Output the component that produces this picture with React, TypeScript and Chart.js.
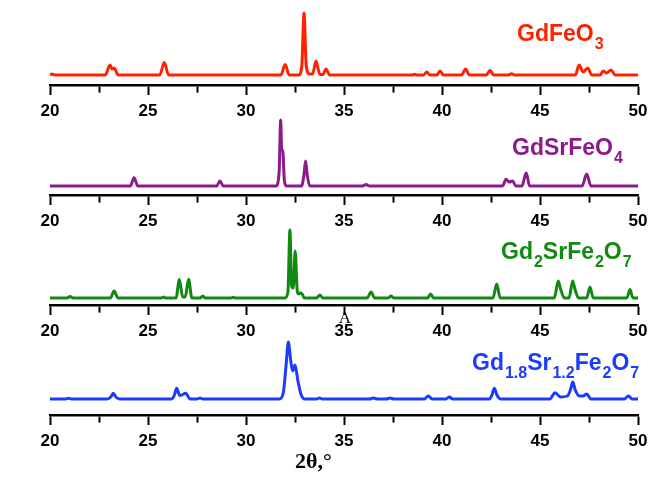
import React, { useEffect, useRef } from "react";
import { Chart, registerables } from "chart.js";

Chart.register(...registerables);

// ---- shared axis data ----
const xTickLabels = [20, 25, 30, 35, 40, 45, 50];
const xMin = 20;
const xMax = 50;
const xStep = 2.5;
const axisTitle = "2θ,°";

// ---- GdFeO3 ----
const gdFeO3Label = "GdFeO_3";
const gdFeO3TwoTheta = [
  20.0, 20.1, 20.25,
  22.82, 23.06, 23.17, 23.27, 23.48,
  25.6, 25.83, 26.05,
  31.78, 32.0, 32.2,
  32.7, 32.85, 32.96, 33.07, 33.24,
  33.4, 33.57, 33.77,
  33.93, 34.08, 34.27,
  38.5, 38.6, 38.7,
  39.06, 39.22, 39.38,
  39.74, 39.9, 40.07,
  41.0, 41.2, 41.4,
  42.26, 42.45, 42.64,
  43.4, 43.55, 43.7,
  46.8, 47.0, 47.2, 47.43, 47.64,
  48.06, 48.23, 48.4, 48.62, 48.84,
  50.0,
];
const gdFeO3Intensity = [
  0, 1, 0,
  0, 10, 6, 7, 0,
  0, 12.5, 0,
  0, 10.5, 0,
  0, 10, 62, 10, 1,
  1, 14, 0.5,
  0.5, 6, 0,
  0, 0.8, 0,
  0, 3, 0,
  0, 4, 0,
  0, 6, 0,
  0, 4.5, 0,
  0, 1.2, 0,
  0, 10, 3, 7, 0,
  0, 4, 2, 5, 0,
  0,
];

// ---- GdSrFeO4 ----
const gdSrFeO4Label = "GdSrFeO_4";
const gdSrFeO4TwoTheta = [
  20.0,
  24.1, 24.29, 24.48,
  28.5, 28.67, 28.84,
  31.53, 31.69, 31.77, 31.82, 31.87, 31.96, 32.07,
  32.83, 32.95, 33.04, 33.13, 33.26,
  35.95, 36.12, 36.3,
  43.08, 43.27, 43.42, 43.6, 43.77,
  44.08, 44.22, 44.3, 44.47,
  47.15, 47.38, 47.6,
  50.0,
];
const gdSrFeO4Intensity = [
  0,
  0, 8.3, 0,
  0, 5, 0,
  0, 14, 66, 36, 36, 5, 0,
  0, 10, 25, 10, 0,
  0, 1.5, 0,
  0, 6.7, 4, 5, 0,
  0, 9, 13, 0,
  0, 12, 0,
  0,
];

// ---- Gd2SrFe2O7 ----
const gd2SrFe2O7Label = "Gd_2SrFe_2O_7";
const gd2SrFe2O7TwoTheta = [
  20.0,
  20.88, 21.02, 21.17,
  23.08, 23.27, 23.47,
  25.7, 25.8, 25.9,
  26.43, 26.6, 26.77, 26.9, 27.07, 27.24,
  27.66, 27.79, 27.92,
  29.25, 29.34, 29.45,
  31.98, 32.14, 32.24, 32.33, 32.41, 32.51, 32.61, 32.68, 32.76, 32.86, 32.98,
  33.6, 33.77, 33.92,
  36.18, 36.38, 36.57,
  37.26, 37.4, 37.54,
  39.26, 39.42, 39.57,
  42.6, 42.79, 42.97,
  45.73, 45.93, 46.05, 46.24,
  46.48, 46.67, 46.78, 46.97,
  47.38, 47.55, 47.72,
  49.43, 49.59, 49.74,
  50.0,
];
const gd2SrFe2O7Intensity = [
  0,
  0, 1.5, 0,
  0, 7, 0,
  0, 1, 0,
  0, 18.4, 1, 1, 18.7, 0,
  0, 2, 0,
  0, 0.8, 0,
  0, 6, 68, 12, 10, 47, 8, 4, 5, 4, 0,
  0, 3, 0,
  0, 6, 0,
  0, 2, 0,
  0, 4, 0,
  0, 14, 0,
  0, 17, 9, 0,
  0, 17, 9, 0,
  0, 11, 0,
  0, 8.5, 0,
  0,
];

// ---- Gd1.8Sr1.2Fe2O7 ----
const gd18Sr12Fe2O7Label = "Gd_{1.8}Sr_{1.2}Fe_2O_7";
const gd18Sr12Fe2O7TwoTheta = [
  20.0,
  20.8, 20.94, 21.1,
  22.9, 23.1, 23.23, 23.36, 23.55,
  26.2, 26.35, 26.46, 26.62, 26.72, 26.92, 27.15,
  27.5, 27.65, 27.8,
  31.7, 31.9, 32.05, 32.16, 32.27, 32.38, 32.5, 32.65, 32.8, 33.0,
  33.6, 33.74, 33.9,
  36.3, 36.5, 36.7,
  37.15, 37.35, 37.55,
  39.1, 39.3, 39.5,
  40.2, 40.37, 40.55,
  42.4, 42.55, 42.67, 42.8, 43.0,
  45.5, 45.77, 46.05, 46.4, 46.55, 46.67, 46.8, 47.0, 47.2, 47.38, 47.6,
  49.3, 49.51, 49.7,
  50.0,
];
const gd18Sr12Fe2O7Intensity = [
  0,
  0, 0.7, 0,
  0, 2, 5.7, 2, 0,
  0, 4, 10.7, 3.5, 4, 5.7, 0,
  0, 1, 0,
  0, 6, 35, 57, 40, 28, 34, 18, 5, 0,
  0, 1, 0,
  0, 1, 0,
  0, 1, 0,
  0, 3, 0,
  0, 2, 0,
  0, 4, 10.7, 4, 0,
  0, 6.3, 2, 3, 9, 17, 9, 3, 3, 5, 0,
  0, 3, 0,
  0,
];

// ---- layout / style per panel ----
type PanelCfg = {
  label: string;
  x: number[];
  y: number[];
  color: string;
  top: number;
  height: number;
  padBottom: number;
  baseOffset: number;
  labelX: number;
  labelBaseline: number;
  extras?: { text: string; font: string; x: number; y: number; align: CanvasTextAlign }[];
};

const PLOT_H = 85;
const SANS = "'Liberation Sans', Arial, Helvetica, sans-serif";
const SERIF = "'Liberation Serif', 'Times New Roman', serif";

const panels: PanelCfg[] = [
  {
    label: gdFeO3Label, x: gdFeO3TwoTheta, y: gdFeO3Intensity, color: "#FF2200",
    top: 0, height: 127, padBottom: 0, baseOffset: 10, labelX: 517, labelBaseline: 41,
  },
  {
    label: gdSrFeO4Label, x: gdSrFeO4TwoTheta, y: gdSrFeO4Intensity, color: "#8B1A8B",
    top: 110, height: 127, padBottom: 0, baseOffset: 9, labelX: 512, labelBaseline: 45,
  },
  {
    label: gd2SrFe2O7Label, x: gd2SrFe2O7TwoTheta, y: gd2SrFe2O7Intensity, color: "#128A12",
    top: 220, height: 127, padBottom: 0, baseOffset: 7, labelX: 501, labelBaseline: 39,
    extras: [{ text: "A", font: `17px ${SERIF}`, x: 345, y: 103, align: "center" }],
  },
  {
    label: gd18Sr12Fe2O7Label, x: gd18Sr12Fe2O7TwoTheta, y: gd18Sr12Fe2O7Intensity, color: "#1B3BFF",
    top: 330, height: 147, padBottom: 20, baseOffset: 16, labelX: 472, labelBaseline: 40,
    extras: [{ text: axisTitle, font: `bold 22px ${SERIF}`, x: 295, y: 138, align: "left" }],
  },
];

function parseFormula(s: string) {
  const parts: { text: string; sub: boolean }[] = [];
  const re = /_\{([^}]*)\}|_(.)|([^_]+)/g;
  let m: RegExpExecArray | null;
  while ((m = re.exec(s))) {
    if (m[1] !== undefined) parts.push({ text: m[1], sub: true });
    else if (m[2] !== undefined) parts.push({ text: m[2], sub: true });
    else parts.push({ text: m[3], sub: false });
  }
  return parts;
}

function Panel({ cfg }: { cfg: PanelCfg }) {
  const ref = useRef<HTMLCanvasElement>(null);
  useEffect(() => {
    const canvas = ref.current!;
    const labelPlugin = {
      id: "formulaLabel",
      afterDraw(chart: any) {
        const ctx = chart.ctx as CanvasRenderingContext2D;
        ctx.save();
        ctx.fillStyle = cfg.color;
        ctx.textBaseline = "alphabetic";
        ctx.textAlign = "left";
        let x = cfg.labelX;
        for (const p of parseFormula(cfg.label)) {
          ctx.font = p.sub ? `bold 16px ${SANS}` : `bold 23px ${SANS}`;
          if (p.sub) x += 1;
          ctx.fillText(p.text, x, cfg.labelBaseline + (p.sub ? 8 : 0));
          x += ctx.measureText(p.text).width;
        }
        ctx.fillStyle = "#000";
        for (const e of cfg.extras || []) {
          ctx.font = e.font;
          ctx.textAlign = e.align;
          ctx.fillText(e.text, e.x, e.y);
        }
        ctx.restore();
      },
    };
    const chart = new Chart(canvas, {
      type: "line",
      data: {
        datasets: [
          {
            data: cfg.x.map((v, i) => ({ x: v, y: cfg.y[i] })),
            borderColor: cfg.color,
            borderWidth: 3,
            pointRadius: 0,
            fill: false,
            cubicInterpolationMode: "monotone",
            borderJoinStyle: "round",
          } as any,
        ],
      },
      options: {
        responsive: false,
        animation: false,
        devicePixelRatio: 1,
        layout: { padding: { left: 50, right: 13, top: 0, bottom: cfg.padBottom } },
        plugins: { legend: { display: false }, tooltip: { enabled: false }, title: { display: false } },
        scales: {
          x: {
            type: "linear",
            min: xMin,
            max: xMax,
            afterFit: (scale: any) => {
              scale.paddingLeft = 0;
              scale.paddingRight = 0;
            },
            ticks: {
              stepSize: xStep,
              autoSkip: false,
              maxRotation: 0,
              padding: 7.5,
              color: "#000",
              font: { family: SANS, size: 17, weight: "bold", lineHeight: 1 },
              callback: (v: any) => (xTickLabels.includes(Number(v)) ? String(v) : ""),
            },
            grid: {
              display: true,
              drawOnChartArea: false,
              drawTicks: true,
              tickLength: 10,
              tickWidth: 2,
              tickColor: "#000",
              tickBorderDash: (c: any) =>
                c.tick && xTickLabels.includes(Number(c.tick.value)) ? [] : [6, 100],
            } as any,
            border: { display: true, color: "#000", width: 2.6 },
          },
          y: {
            type: "linear",
            display: false,
            min: -cfg.baseOffset,
            max: PLOT_H - cfg.baseOffset,
          },
        },
      },
      plugins: [labelPlugin],
    } as any);
    return () => chart.destroy();
  }, [cfg]);
  return (
    <canvas
      ref={ref}
      width={651}
      height={cfg.height}
      style={{ position: "absolute", left: 0, top: cfg.top, width: 651, height: cfg.height, display: "block" }}
    />
  );
}

export default function App() {
  return (
    <div style={{ position: "absolute", left: 0, top: 0, width: 651, height: 477, background: "#fff" }}>
      {panels.map((p, i) => (
        <Panel key={i} cfg={p} />
      ))}
    </div>
  );
}
